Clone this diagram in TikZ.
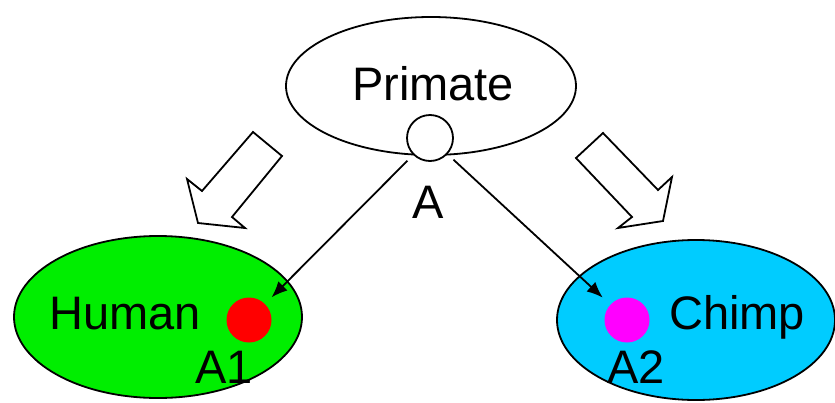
\documentclass[tikz,border=0pt]{standalone}
\usepackage{fontspec}
\setmainfont{Liberation Sans}
\usetikzlibrary{arrows.meta}
\begin{document}
\begin{tikzpicture}[x=1pt,y=-1pt,
  lbl/.style={font=\fontsize{47}{47}\selectfont, inner sep=0pt, anchor=base},
  blockarrow/.style={draw, line width=1.8pt, line join=miter, fill=white},
  conn/.style={line width=1.8pt, -{Latex[length=16pt,width=13pt]}},
  dot/.style={circle, inner sep=0pt, minimum size=45pt}]
\useasboundingbox (0,0) rectangle (835,402);
% ellipses
\draw[line width=1.8pt] (431,86) ellipse [x radius=145, y radius=69];
\draw[line width=1.8pt, fill={rgb,255:red,0;green,238;blue,0}] (158,317) ellipse [x radius=144, y radius=81];
\draw[line width=1.8pt, fill={rgb,255:red,0;green,204;blue,255}] (696,320) ellipse [x radius=139, y radius=80];
% block arrows
\draw[blockarrow] (253,132) -- (282,156) -- (232,217) -- (245,228) -- (198,223) -- (187,179) -- (202,191) -- cycle;
\draw[blockarrow] (603,133) -- (576,158) -- (632,217) -- (618,228) -- (663,221) -- (672,177) -- (658,190) -- cycle;
% dots
\node[dot, draw, line width=1.8pt, minimum size=46pt, fill=white] (A) at (430,138) {};
\node[dot, fill={rgb,255:red,255;green,0;blue,0}] (A1) at (249,320) {};
\node[dot, fill={rgb,255:red,255;green,0;blue,255}] (A2) at (627,320) {};
% labels
\node[lbl] (tP) at (433,100) {Primate};
\node[lbl] (tA) at (428,218) {A};
\node[lbl] (tH) at (125,329) {Human};
\node[lbl] (tA1) at (224,383) {A1};
\node[lbl] (tC) at (737,329) {Chimp};
\node[lbl] (tA2) at (636,383) {A2};
% connectors
\draw[conn, shorten <=32pt, shorten >=32pt] (A.center) -- (A1.center);
\draw[conn, shorten <=32pt, shorten >=33pt] (A.center) -- (A2.center);
\end{tikzpicture}
\end{document}
